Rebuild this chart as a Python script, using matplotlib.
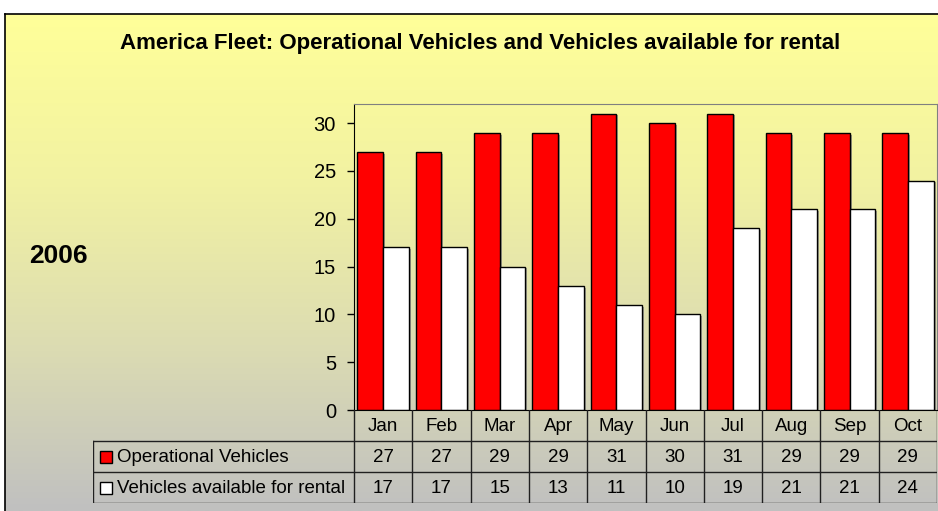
import numpy as np
import matplotlib.pyplot as plt
from matplotlib.colors import LinearSegmentedColormap

plt.rcParams['font.family'] = ['Liberation Sans', 'DejaVu Sans']

# data
months = ["Jan", "Feb", "Mar", "Apr", "May", "Jun", "Jul", "Aug", "Sep", "Oct"]
operational = [27, 27, 29, 29, 31, 30, 31, 29, 29, 29]
available = [17, 17, 15, 13, 11, 10, 19, 21, 21, 24]
series_names = ["Operational Vehicles", "Vehicles available for rental"]
series_colors = ["#FF0000", "#FFFFFF"]
title = "America Fleet: Operational Vehicles and Vehicles available for rental"
side_label = "2006"

W, H = 938, 511
fig = plt.figure(figsize=(W / 100, H / 100), dpi=100)


def fx(px):
    return px / W


def fy(py):
    return 1 - py / H


# fondo con degradado amarillo -> gris
bg = fig.add_axes([fx(5), 0, 1 - fx(5), fy(14)])
grad = np.linspace(0, 1, 256).reshape(-1, 1)
cmap = LinearSegmentedColormap.from_list("bg", ["#FFFF99", "#F2F2A2", "#DCDCB2", "#C0C0C0"])
bg.imshow(grad, aspect='auto', cmap=cmap, extent=[0, 1, 0, 1], origin='upper')
bg.set_xticks([])
bg.set_yticks([])
for s in ["right", "bottom"]:
    bg.spines[s].set_visible(False)
for s in ["left", "top"]:
    bg.spines[s].set_color("black")
    bg.spines[s].set_linewidth(1.2)

# area del grafico
x0_px, x1_px, ytop_px, y0_px = 354, 937, 104, 410
ax = fig.add_axes([fx(x0_px), fy(y0_px), fx(x1_px) - fx(x0_px), fy(ytop_px) - fy(y0_px)])
ax.patch.set_alpha(0)
x = np.arange(len(months))
bw = 0.44
unit_px = (x1_px - x0_px) / len(months)
off = 2.0 / unit_px
for i, vals in enumerate([operational, available]):
    xs = x - bw / 2 + i * bw
    # sombra
    ax.bar(xs + off, np.array(vals) - 0.2, bw, color="#808080", alpha=0.7,
           linewidth=0, zorder=1)
    ax.bar(xs, vals, bw, color=series_colors[i], edgecolor="black",
           linewidth=1, zorder=2)
ax.set_xlim(-0.5, len(months) - 0.5)
ax.set_ylim(0, 32)
ax.set_yticks(range(0, 31, 5))
ax.set_xticks([])
ax.tick_params(axis='y', direction='out', length=5, width=1, labelsize=14.5, pad=8)
ax.spines["left"].set_color("black")
ax.spines["bottom"].set_color("black")
ax.spines["top"].set_color("#808080")
ax.spines["right"].set_color("#808080")

# tabla de datos
tab_left_px, tab_bottom_px = 93, 503
xleft = -0.5 - (x0_px - tab_left_px) / unit_px
tab = fig.add_axes([fx(tab_left_px), fy(tab_bottom_px),
                    fx(x1_px) - fx(tab_left_px), fy(y0_px) - fy(tab_bottom_px)])
tab.patch.set_alpha(0)
tab.set_xlim(xleft, len(months) - 0.5)
tab.set_ylim(3, 0)
tab.axis("off")
lc = "#202020"
for k in range(len(months) + 1):
    tab.plot([k - 0.5, k - 0.5], [0, 3], color=lc, lw=1)
for r in [1, 2, 3]:
    tab.plot([xleft, len(months) - 0.5], [r, r], color=lc, lw=1)
tab.plot([xleft, xleft], [1, 3], color=lc, lw=1)

fs = 13.5
for k, m in enumerate(months):
    tab.text(k, 0.52, m, ha="center", va="center", fontsize=fs)
    tab.text(k, 1.52, str(operational[k]), ha="center", va="center", fontsize=fs)
    tab.text(k, 2.52, str(available[k]), ha="center", va="center", fontsize=fs)

for i, name in enumerate(series_names):
    tab.plot(xleft + 12.5 / unit_px, 1.52 + i, marker="s", ms=8,
             mfc=series_colors[i], mec="black", mew=1)
    tab.text(xleft + 24 / unit_px, 1.52 + i, name, ha="left", va="center", fontsize=fs)

fig.text(fx(480), fy(44), title, ha="center", va="center", fontsize=16,
         fontweight="bold")
fig.text(fx(29), fy(256), side_label, ha="left", va="center", fontsize=19,
         fontweight="bold")

fig.savefig("out.png", dpi=100)
